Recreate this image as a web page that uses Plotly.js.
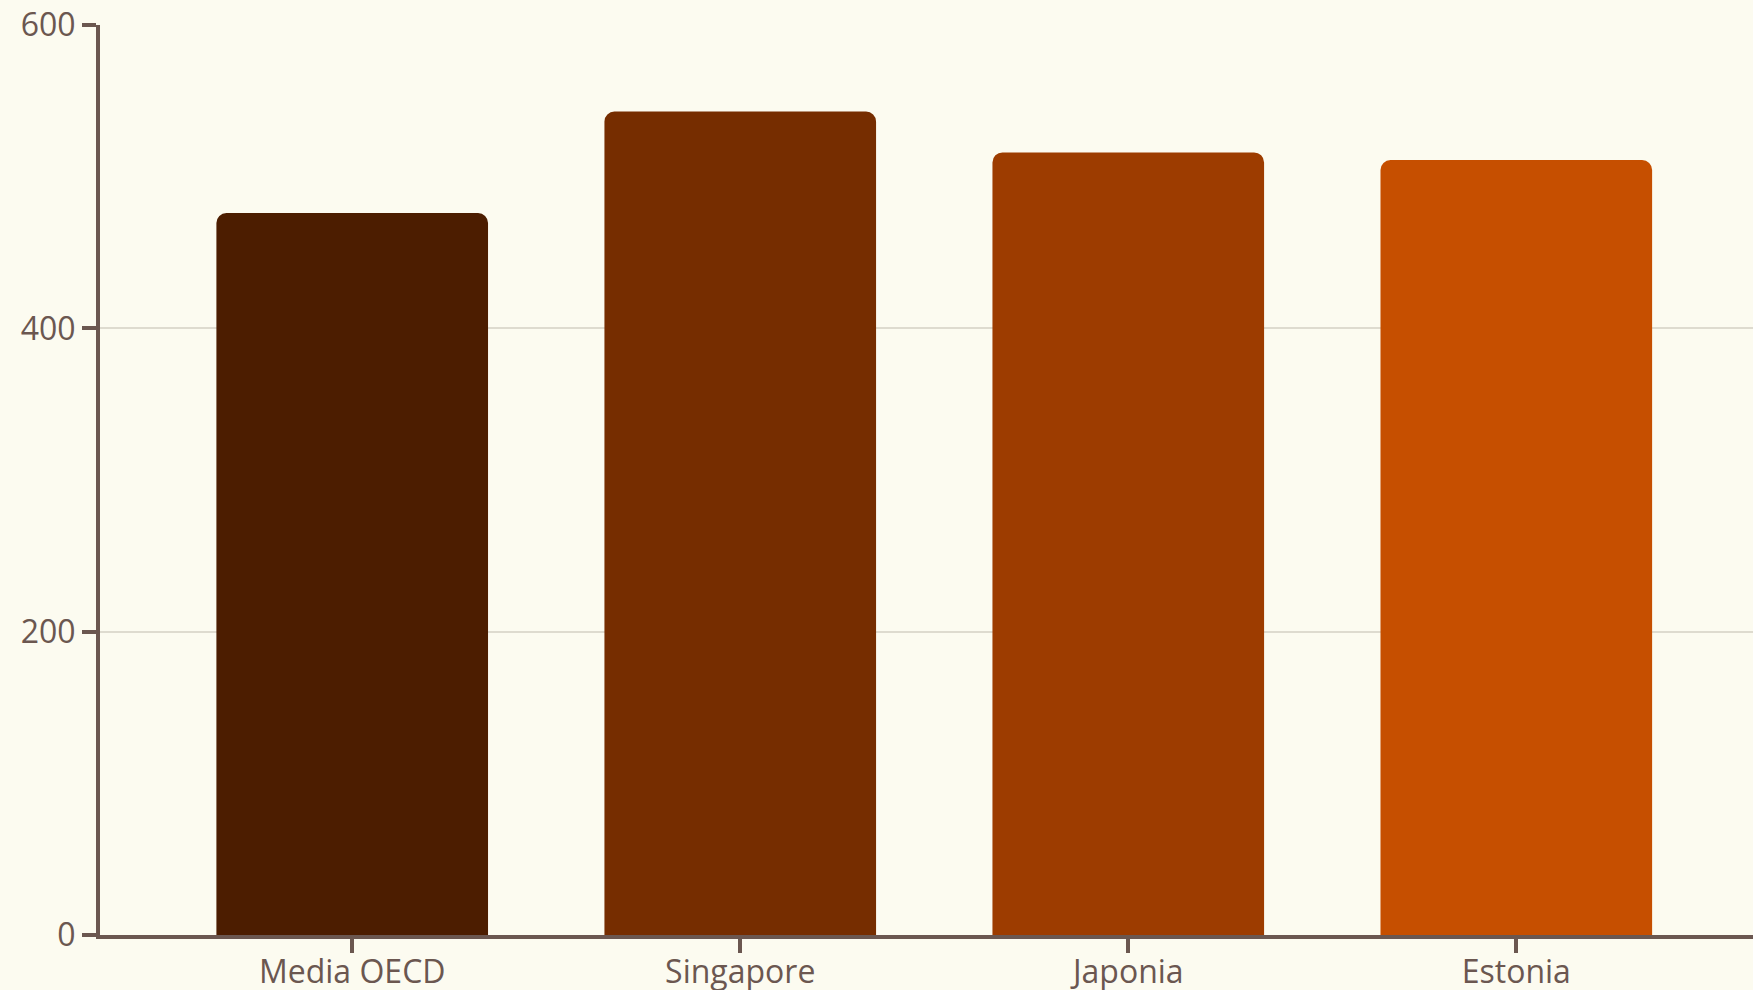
<!DOCTYPE html>
<html>
<head>
<meta charset="utf-8">
<script src="https://cdn.plot.ly/plotly-3.0.1.min.js"></script>
<style>html,body{margin:0;padding:0;background:#fcfbf0;}#chart{width:1753px;height:990px;}</style>
</head>
<body>
<div id="chart"></div>
<script>
const categories = ["Media OECD", "Singapore", "Japonia", "Estonia"];
const values = [476, 543, 516, 511];
const barColors = ["#4c1d00", "#762d00", "#9d3c00", "#c64f00"];
const yTickVals = [0, 200, 400, 600];

const axisColor = "#6b5750";
const trace = {
  type: "bar",
  x: categories,
  y: values,
  marker: {color: barColors, line: {width: 0}},
  hoverinfo: "x+y"
};
const layout = {
  width: 1753,
  height: 990,
  paper_bgcolor: "#fcfbf0",
  plot_bgcolor: "#fcfbf0",
  margin: {l: 100, r: 0, t: 25, b: 55},
  bargap: 0.3,
  barcornerradius: 10,
  showlegend: false,
  font: {family: "Open Sans, sans-serif", color: axisColor, size: 32},
  xaxis: {
    range: [-0.65, 3.61],
    showline: true, linecolor: axisColor, linewidth: 4,
    ticks: "outside", ticklen: 14, tickwidth: 4, tickcolor: axisColor,
    ticklabelstandoff: -8,
    showgrid: false, zeroline: false, automargin: false,
    tickfont: {size: 32, color: axisColor}
  },
  yaxis: {
    range: [0, 600],
    tickvals: yTickVals,
    showline: true, linecolor: axisColor, linewidth: 4,
    ticks: "outside", ticklen: 14, tickwidth: 4, tickcolor: axisColor,
    showgrid: true, gridcolor: "#dedbcf", gridwidth: 2,
    zeroline: false, automargin: false,
    tickfont: {size: 32, color: axisColor}
  }
};
Plotly.newPlot("chart", [trace], layout, {displayModeBar: false, staticPlot: true});
</script>
</body>
</html>
